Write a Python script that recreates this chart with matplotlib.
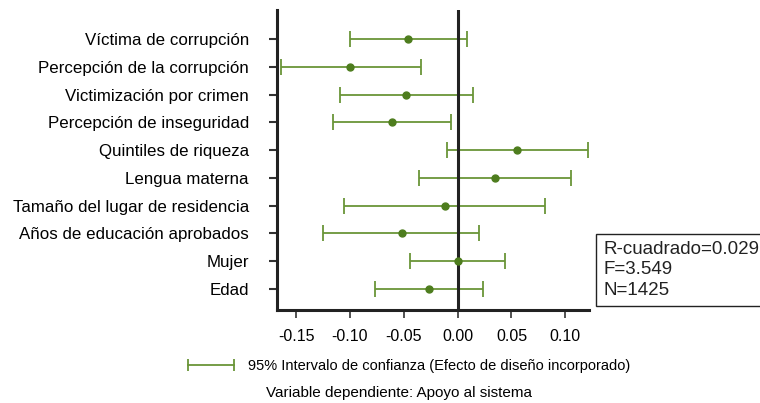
import matplotlib
matplotlib.use("Agg")
import matplotlib.pyplot as plt
from matplotlib.lines import Line2D

plt.rcParams['font.family'] = ['Liberation Sans', 'DejaVu Sans']

# Variables (de abajo hacia arriba)
variables = ['Edad', 'Mujer', 'Años de educación aprobados',
             'Tamaño del lugar de residencia', 'Lengua materna',
             'Quintiles de riqueza', 'Percepción de inseguridad',
             'Victimización por crimen', 'Percepción de la corrupción',
             'Víctima de corrupción']
coef = [-0.027, 0.000, -0.052, -0.012, 0.035, 0.055, -0.061, -0.048, -0.100, -0.046]
ic_inf = [-0.077, -0.044, -0.125, -0.105, -0.036, -0.010, -0.116, -0.109, -0.164, -0.100]
ic_sup = [0.024, 0.044, 0.020, 0.081, 0.105, 0.121, -0.006, 0.014, -0.034, 0.009]

xticks = [-0.15, -0.10, -0.05, 0.00, 0.05, 0.10]
estadisticos = ['R-cuadrado=0.029', 'F=3.549', 'N=1425']

verde = '#4e7d1e'
verde_linea = '#6a9538'

fig = plt.figure(figsize=(7.6, 4.03), dpi=100)
ax = fig.add_axes([0.364, 0.231, 0.411, 0.744])

y = list(range(len(variables)))
err_lo = [c - lo for c, lo in zip(coef, ic_inf)]
err_hi = [hi - c for c, hi in zip(coef, ic_sup)]
ax.errorbar(coef, y, xerr=[err_lo, err_hi], fmt='none', ecolor=verde_linea,
            elinewidth=1.3, capsize=6, capthick=1.3, zorder=2)
ax.plot(coef, y, 'o', color=verde, markersize=5, zorder=4)
ax.axvline(0, color='#222222', linewidth=2.2, zorder=3)

ax.set_xlim(-0.168, 0.122)
ax.set_ylim(-0.75, 10.04)
ax.set_yticks(y)
ax.set_yticklabels(variables, fontsize=12.2)
ax.set_xticks(xticks)
ax.set_xticklabels([f'{t:.2f}' for t in xticks], fontsize=11.5)
ax.tick_params(axis='y', length=6, width=1.5, color='#333333', pad=14)
ax.tick_params(axis='x', length=6, width=1.2, color='#333333', pad=8)
for s in ['top', 'right']:
    ax.spines[s].set_visible(False)
for s in ['left', 'bottom']:
    ax.spines[s].set_linewidth(2.2)
    ax.spines[s].set_color('#222222')

# Cuadro de estadísticos
fig.text(0.7935, 0.403, '\n'.join(estadisticos), fontsize=13.5, va='top', ha='left',
         linespacing=1.3, color='#222222',
         bbox=dict(boxstyle='square,pad=0.35', facecolor='white',
                   edgecolor='#222222', linewidth=1.0))

# Leyenda
handle = Line2D([], [], color=verde_linea, marker='|', markersize=9,
                markeredgewidth=1.3, linewidth=1.3)
fig.legend(handles=[handle],
           labels=['95% Intervalo de confianza (Efecto de diseño incorporado)'],
           numpoints=2, frameon=False, loc='center', bbox_to_anchor=(0.535, 0.092),
           fontsize=10.5, handlelength=3.8, handletextpad=0.6)
fig.text(0.525, 0.025, 'Variable dependiente: Apoyo al sistema', fontsize=11,
         ha='center', va='center')

fig.savefig('out.png', dpi=100)
